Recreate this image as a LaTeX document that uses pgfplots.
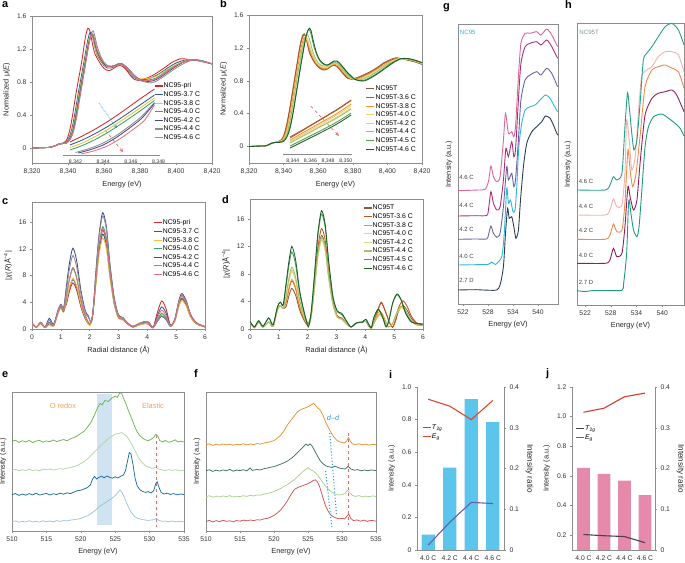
\documentclass[border=0pt]{standalone}
\usepackage{pgfplots}
\pgfplotsset{compat=1.18}
\usepackage{fontspec}
\setmainfont{Liberation Sans}
\newcommand\tickf{\fontsize{6.8}{7.5}\selectfont}
\newcommand\labf{\fontsize{7.4}{8}\selectfont}
\newcommand\ratf{\fontsize{8.2}{9}\selectfont}
\newcommand\legf{\fontsize{6.9}{7.5}\selectfont}
\newcommand\insf{\fontsize{5.2}{6}\selectfont}
\newcommand\letf{\fontsize{11}{11}\bfseries\selectfont}
% colours
\definecolor{aPri}{HTML}{D7262B}\definecolor{a37}{HTML}{2A5D8C}\definecolor{a38}{HTML}{F2C038}
\definecolor{a40}{HTML}{32A56B}\definecolor{a42}{HTML}{3E4A8E}\definecolor{a44}{HTML}{8D8D8D}
\definecolor{a46}{HTML}{E4707C}
\definecolor{bT}{HTML}{8A5A3B}\definecolor{b36}{HTML}{C0561F}\definecolor{b38}{HTML}{F0902C}
\definecolor{b40}{HTML}{F4D068}\definecolor{b42}{HTML}{CFDC90}\definecolor{b44}{HTML}{A4BF6E}
\definecolor{b45}{HTML}{4E9D4A}\definecolor{b46}{HTML}{1B5E2C}
\definecolor{e1}{HTML}{6DB34F}\definecolor{e2}{HTML}{B3D4A4}\definecolor{e3}{HTML}{1B6A9C}
\definecolor{e4}{HTML}{9CC4DD}\definecolor{band}{HTML}{CFE3F1}\definecolor{orng}{HTML}{F0A060}
\definecolor{f1}{HTML}{E8912B}\definecolor{f2}{HTML}{3E6F58}\definecolor{f3}{HTML}{A9D08F}
\definecolor{f4}{HTML}{D44F4F}\definecolor{dd}{HTML}{2A9FD6}\definecolor{rdash}{HTML}{E07070}
\definecolor{g27}{HTML}{273E54}\definecolor{g40}{HTML}{2BB8DC}\definecolor{g42}{HTML}{6B62A3}
\definecolor{g44}{HTML}{A8307A}\definecolor{g46}{HTML}{D9679C}
\definecolor{h27}{HTML}{1E9A82}\definecolor{h40}{HTML}{8E1F5C}\definecolor{h42}{HTML}{F08A4A}
\definecolor{h44}{HTML}{F0B2AE}\definecolor{h46}{HTML}{23A08A}\definecolor{hname}{HTML}{7A9A8A}
\definecolor{ibar}{HTML}{5BC5EC}\definecolor{it2g}{HTML}{6A5AAA}\definecolor{ieg}{HTML}{D9482B}
\definecolor{jbar}{HTML}{E58AAA}\definecolor{jt2g}{HTML}{454545}\definecolor{jeg}{HTML}{D9382B}
\pgfplotsset{
  base/.style={scale only axis, anchor=south west,
    axis line style={black!45, line width=0.45pt},
    tick style={black!45, line width=0.4pt}, major tick length=2bp,
    tick align=outside, tick pos=left,
    tick label style={font=\tickf, text=black!80},
    label style={font=\labf, text=black!85},
    /pgf/number format/assume math mode=true,
    /pgf/number format/1000 sep={,},
    legend style={draw=none, fill=none, font=\legf, inner sep=0pt, outer sep=0pt,
      row sep=0.9bp, nodes={inner sep=0.6bp, text height=5.2bp, text depth=1.3bp}},
    legend cell align=left,
    legend image code/.code={\draw[##1, line width=1.1pt] (0bp,0bp) -- (8bp,0bp);}},
  cl/.style={line width=0.85pt, smooth, tension=0.45},
  nl/.style={line width=0.75pt},
}
\begin{document}
\begin{tikzpicture}
\useasboundingbox (0,0) rectangle (685bp,563bp);
% ---------------- panel letters
\node[font=\letf, anchor=base west, inner sep=0] at (2bp,555bp) {a};
\node[font=\letf, anchor=base west, inner sep=0] at (220bp,555bp) {b};
\node[font=\letf, anchor=base west, inner sep=0] at (2bp,358bp) {c};
\node[font=\letf, anchor=base west, inner sep=0] at (222bp,359bp) {d};
\node[font=\letf, anchor=base west, inner sep=0] at (2bp,185bp) {e};
\node[font=\letf, anchor=base west, inner sep=0] at (194bp,185bp) {f};
\node[font=\letf, anchor=base west, inner sep=0] at (443bp,553bp) {g};
\node[font=\letf, anchor=base west, inner sep=0] at (565bp,554bp) {h};
\node[font=\letf, anchor=base west, inner sep=0] at (389bp,184bp) {i};
\node[font=\letf, anchor=base west, inner sep=0] at (546bp,186bp) {j};

% ================= panel a
\begin{axis}[base, at={(32bp,400bp)}, width=180bp, height=147bp,
  xmin=8320, xmax=8420, ymin=-0.18, ymax=1.6,
  xtick={8320,8340,8360,8380,8400,8420}, ytick={0,0.4,0.8,1.2,1.6},
  xlabel={Energy (eV)}, ylabel={Normalized μ(\textit{E})},
  legend style={at={(0.678,0.55)}, anchor=north west}]
\addplot[cl, color=aPri] coordinates {(8320,0)(8325,0.005)(8330,0.01)(8333,0.03)(8335,0.05)(8337,0.06)(8339,0.09)(8340,0.14)(8341,0.22)(8342,0.33)(8343,0.46)(8344,0.60)(8345,0.73)(8346,0.85)(8347,0.97)(8348,1.10)(8349,1.25)(8350,1.38)(8351,1.45)(8352,1.43)(8353,1.33)(8354,1.22)(8355,1.14)(8357,1.06)(8359,0.99)(8361,0.95)(8363,0.94)(8365,0.96)(8367,0.99)(8369,1.00)(8371,0.98)(8373,0.93)(8375,0.87)(8377,0.83)(8379,0.82)(8381,0.83)(8384,0.85)(8387,0.88)(8390,0.92)(8394,0.98)(8398,1.04)(8402,1.08)(8405,1.08)(8408,1.07)(8412,1.06)(8416,1.04)(8420,1.02)};
\addlegendentry{NC95-pri}
\addplot[cl, color=a37] coordinates {(8320,0)(8325,0.005)(8330,0.01)(8333,0.03)(8335,0.05)(8337,0.055)(8339,0.07)(8340,0.10)(8341,0.15)(8342,0.22)(8343,0.32)(8344,0.44)(8345,0.57)(8346,0.70)(8347,0.82)(8348,0.94)(8349,1.06)(8350,1.19)(8351,1.31)(8352,1.39)(8353,1.40)(8354,1.32)(8355,1.22)(8356,1.14)(8358,1.06)(8360,1.00)(8362,0.97)(8364,0.97)(8366,0.99)(8368,1.01)(8370,1.01)(8372,0.97)(8374,0.92)(8376,0.87)(8378,0.84)(8380,0.83)(8383,0.83)(8386,0.85)(8389,0.88)(8392,0.92)(8396,0.98)(8400,1.03)(8404,1.06)(8407,1.07)(8410,1.07)(8414,1.05)(8417,1.04)(8420,1.02)};
\addlegendentry{NC95-3.7 C}
\addplot[cl, color=a38] coordinates {(8320,0)(8325,0.005)(8330,0.01)(8333,0.03)(8335,0.05)(8337,0.055)(8339,0.065)(8340,0.09)(8341,0.13)(8342,0.19)(8343,0.28)(8344,0.39)(8345,0.52)(8346,0.65)(8347,0.77)(8348,0.89)(8349,1.01)(8350,1.14)(8351,1.26)(8352,1.34)(8353,1.37)(8354,1.32)(8355,1.23)(8356,1.15)(8358,1.07)(8360,1.01)(8362,0.98)(8364,0.98)(8366,1.00)(8368,1.01)(8370,1.01)(8372,0.98)(8374,0.93)(8376,0.88)(8378,0.85)(8380,0.84)(8383,0.84)(8386,0.85)(8389,0.87)(8392,0.91)(8396,0.96)(8400,1.01)(8404,1.05)(8407,1.07)(8410,1.07)(8414,1.05)(8417,1.04)(8420,1.02)};
\addlegendentry{NC95-3.8 C}
\addplot[cl, color=a40] coordinates {(8320,0)(8325,0.005)(8330,0.01)(8333,0.03)(8335,0.05)(8337,0.055)(8339,0.065)(8340,0.085)(8341,0.12)(8342,0.17)(8343,0.25)(8344,0.36)(8345,0.48)(8346,0.61)(8347,0.74)(8348,0.86)(8349,0.98)(8350,1.10)(8351,1.23)(8352,1.32)(8353,1.37)(8354,1.34)(8355,1.25)(8356,1.17)(8358,1.08)(8360,1.02)(8362,0.99)(8364,0.99)(8366,1.00)(8368,1.02)(8370,1.02)(8372,0.99)(8374,0.94)(8376,0.89)(8378,0.85)(8380,0.83)(8383,0.82)(8386,0.83)(8389,0.85)(8392,0.89)(8396,0.95)(8400,1.00)(8404,1.04)(8407,1.06)(8410,1.07)(8414,1.06)(8417,1.04)(8420,1.02)};
\addlegendentry{NC95-4.0 C}
\addplot[cl, color=a42] coordinates {(8320,0)(8325,0.005)(8330,0.01)(8333,0.03)(8335,0.05)(8337,0.055)(8339,0.06)(8340,0.08)(8341,0.11)(8342,0.15)(8343,0.22)(8344,0.32)(8345,0.44)(8346,0.57)(8347,0.70)(8348,0.82)(8349,0.94)(8350,1.07)(8351,1.20)(8352,1.31)(8353,1.38)(8354,1.37)(8355,1.28)(8356,1.19)(8358,1.09)(8360,1.02)(8362,0.99)(8364,0.99)(8366,1.00)(8368,1.02)(8370,1.02)(8372,0.99)(8374,0.95)(8376,0.90)(8378,0.86)(8380,0.83)(8383,0.81)(8386,0.81)(8389,0.83)(8392,0.87)(8396,0.93)(8400,0.99)(8404,1.04)(8407,1.06)(8410,1.07)(8414,1.06)(8417,1.04)(8420,1.02)};
\addlegendentry{NC95-4.2 C}
\addplot[cl, color=a44] coordinates {(8320,0)(8325,0.005)(8330,0.01)(8333,0.03)(8335,0.05)(8337,0.055)(8339,0.06)(8340,0.075)(8341,0.10)(8342,0.14)(8343,0.20)(8344,0.29)(8345,0.40)(8346,0.53)(8347,0.66)(8348,0.79)(8349,0.92)(8350,1.05)(8351,1.18)(8352,1.30)(8353,1.39)(8354,1.42)(8355,1.35)(8356,1.25)(8358,1.12)(8360,1.04)(8362,1.00)(8364,0.99)(8366,1.00)(8368,1.02)(8370,1.02)(8372,0.99)(8374,0.95)(8376,0.90)(8378,0.86)(8380,0.82)(8383,0.80)(8386,0.79)(8389,0.81)(8392,0.85)(8396,0.91)(8400,0.97)(8404,1.02)(8407,1.05)(8410,1.07)(8414,1.06)(8417,1.04)(8420,1.02)};
\addlegendentry{NC95-4.4 C}
\addplot[cl, color=a46] coordinates {(8320,0)(8325,0.005)(8330,0.01)(8333,0.03)(8335,0.05)(8337,0.055)(8339,0.06)(8340,0.08)(8341,0.105)(8342,0.145)(8343,0.21)(8344,0.30)(8345,0.42)(8346,0.55)(8347,0.68)(8348,0.81)(8349,0.93)(8350,1.06)(8351,1.19)(8352,1.30)(8353,1.38)(8354,1.37)(8355,1.29)(8356,1.20)(8358,1.10)(8360,1.03)(8362,0.99)(8364,0.98)(8366,0.99)(8368,1.01)(8370,1.01)(8372,0.98)(8374,0.94)(8376,0.89)(8378,0.85)(8380,0.83)(8383,0.82)(8386,0.82)(8389,0.84)(8392,0.88)(8396,0.94)(8400,1.00)(8404,1.04)(8407,1.06)(8410,1.07)(8414,1.05)(8417,1.04)(8420,1.02)};
\addlegendentry{NC95-4.6 C}
\draw[dd, densely dotted, line width=0.7pt, -stealth] (axis cs:8357.2,0.545) -- (axis cs:8367.2,0.24);
\draw[rdash, dashed, line width=0.7pt, -stealth] (axis cs:8360.6,0.218) -- (axis cs:8370.6,-0.048);
\end{axis}
% inset a
\begin{axis}[base, at={(63bp,408bp)}, width=97bp, height=70bp,
  xmin=8341.1, xmax=8348.1, ymin=0, ymax=70,
  axis y line=none, axis x line*=bottom, axis line style={-},
  xtick={8342,8344,8346,8348}, tick label style={font=\insf}, major tick length=1.5bp]
\addplot[cl, color=aPri] coordinates {(8341.6,13)(8342.5,19)(8343.5,26.5)(8344.5,35)(8345.5,44.5)(8346.5,54.5)(8347.7,66)};
\addplot[cl, color=a37] coordinates {(8341.6,10)(8342.5,15)(8343.5,22)(8344.5,30)(8345.5,39)(8346.5,48.5)(8347.7,60)};
\addplot[cl, color=a38] coordinates {(8341.6,7.5)(8342.5,12)(8343.5,19)(8344.5,27)(8345.5,36)(8346.5,45.5)(8347.7,57)};
\addplot[cl, color=a40] coordinates {(8341.6,5)(8342.5,9.5)(8343.5,16)(8344.5,24)(8345.5,33)(8346.5,42.5)(8347.7,54.5)};
\addplot[cl, color=a44] coordinates {(8342.0,2.5)(8343,6.5)(8344,12)(8345,20)(8346,30)(8346.8,39)(8347.7,52.5)};
\addplot[cl, color=a42] coordinates {(8342.2,2)(8343,5)(8344,10)(8345,18)(8346,28)(8346.8,37)(8347.7,51.5)};
\addplot[cl, color=a46] coordinates {(8342.4,1)(8343.3,4)(8344.3,9)(8345.3,17)(8346.3,27)(8347,35)(8347.7,50)};
\end{axis}

% ================= panel b
\begin{axis}[base, at={(249bp,400bp)}, width=173bp, height=148bp,
  xmin=8320, xmax=8420, ymin=-0.2, ymax=1.6,
  xtick={8320,8340,8360,8380,8400,8420}, ytick={0,0.4,0.8,1.2,1.6},
  xlabel={Energy (eV)}, ylabel={Normalized μ(\textit{E})},
  legend style={at={(0.676,0.527)}, anchor=north west}]
\addplot[cl, color=bT] coordinates {(8320,0)(8325,0.005)(8330,0.01)(8333,0.04)(8335,0.05)(8337,0.06)(8339,0.09)(8340,0.13)(8341,0.20)(8342,0.29)(8343,0.40)(8344,0.52)(8345,0.65)(8346,0.78)(8347,0.91)(8348,1.04)(8349,1.17)(8350,1.28)(8351,1.35)(8352,1.37)(8353,1.32)(8354,1.22)(8355,1.14)(8357,1.05)(8359,0.99)(8361,0.95)(8363,0.93)(8365,0.94)(8367,0.97)(8369,0.99)(8371,0.97)(8373,0.92)(8375,0.87)(8377,0.83)(8379,0.82)(8381,0.83)(8384,0.85)(8387,0.88)(8390,0.91)(8394,0.96)(8398,1.02)(8402,1.06)(8405,1.08)(8408,1.07)(8412,1.05)(8416,1.03)(8420,1.00)};
\addlegendentry{NC95T}
\addplot[cl, color=b36] coordinates {(8320,0)(8325,0.005)(8330,0.01)(8333,0.04)(8335,0.05)(8337,0.06)(8339,0.085)(8340,0.12)(8341,0.18)(8342,0.27)(8343,0.38)(8344,0.50)(8345,0.63)(8346,0.76)(8347,0.89)(8348,1.02)(8349,1.15)(8350,1.26)(8351,1.33)(8352,1.36)(8353,1.33)(8354,1.24)(8355,1.15)(8357,1.06)(8359,1.00)(8361,0.96)(8363,0.94)(8365,0.94)(8367,0.97)(8369,0.99)(8371,0.97)(8373,0.93)(8375,0.88)(8377,0.84)(8379,0.82)(8381,0.82)(8384,0.84)(8387,0.87)(8390,0.90)(8394,0.95)(8398,1.01)(8402,1.05)(8405,1.07)(8408,1.07)(8412,1.05)(8416,1.03)(8420,1.00)};
\addlegendentry{NC95T-3.6 C}
\addplot[cl, color=b38] coordinates {(8320,0)(8325,0.005)(8330,0.01)(8333,0.04)(8335,0.05)(8337,0.06)(8339,0.075)(8340,0.10)(8341,0.15)(8342,0.22)(8343,0.32)(8344,0.43)(8345,0.55)(8346,0.68)(8347,0.81)(8348,0.94)(8349,1.07)(8350,1.19)(8351,1.28)(8352,1.33)(8353,1.33)(8354,1.27)(8355,1.19)(8357,1.08)(8359,1.01)(8361,0.97)(8363,0.95)(8365,0.95)(8367,0.98)(8369,1.00)(8371,0.99)(8373,0.95)(8375,0.90)(8377,0.85)(8379,0.83)(8381,0.82)(8384,0.83)(8387,0.86)(8390,0.89)(8394,0.94)(8398,0.99)(8402,1.04)(8405,1.06)(8408,1.07)(8412,1.06)(8416,1.04)(8420,1.01)};
\addlegendentry{NC95T-3.8 C}
\addplot[cl, color=b40] coordinates {(8320,0)(8325,0.005)(8330,0.01)(8333,0.04)(8335,0.05)(8337,0.06)(8339,0.07)(8340,0.09)(8341,0.13)(8342,0.19)(8343,0.28)(8344,0.38)(8345,0.50)(8346,0.63)(8347,0.76)(8348,0.89)(8349,1.02)(8350,1.14)(8351,1.24)(8352,1.30)(8353,1.31)(8354,1.28)(8355,1.21)(8357,1.10)(8359,1.02)(8361,0.98)(8363,0.96)(8365,0.96)(8367,0.99)(8369,1.01)(8371,1.00)(8373,0.96)(8375,0.91)(8377,0.86)(8379,0.83)(8381,0.82)(8384,0.82)(8387,0.85)(8390,0.88)(8394,0.93)(8398,0.98)(8402,1.03)(8405,1.06)(8408,1.07)(8412,1.06)(8416,1.04)(8420,1.01)};
\addlegendentry{NC95T-4.0 C}
\addplot[cl, color=b42] coordinates {(8320,0)(8325,0.005)(8330,0.01)(8333,0.04)(8335,0.05)(8337,0.06)(8339,0.07)(8340,0.085)(8341,0.12)(8342,0.18)(8343,0.26)(8344,0.36)(8345,0.48)(8346,0.61)(8347,0.74)(8348,0.87)(8349,1.00)(8350,1.12)(8351,1.23)(8352,1.30)(8353,1.33)(8354,1.30)(8355,1.23)(8357,1.11)(8359,1.03)(8361,0.99)(8363,0.97)(8365,0.97)(8367,0.99)(8369,1.01)(8371,1.00)(8373,0.96)(8375,0.91)(8377,0.86)(8379,0.83)(8381,0.82)(8384,0.82)(8387,0.84)(8390,0.87)(8394,0.92)(8398,0.98)(8402,1.03)(8405,1.06)(8408,1.07)(8412,1.06)(8416,1.04)(8420,1.01)};
\addlegendentry{NC95T-4.2 C}
\addplot[cl, color=b44] coordinates {(8320,0)(8325,0.005)(8330,0.01)(8333,0.04)(8335,0.05)(8337,0.06)(8339,0.065)(8340,0.08)(8341,0.11)(8342,0.16)(8343,0.24)(8344,0.34)(8345,0.46)(8346,0.59)(8347,0.72)(8348,0.85)(8349,0.98)(8350,1.10)(8351,1.21)(8352,1.30)(8353,1.35)(8354,1.36)(8355,1.30)(8357,1.15)(8359,1.05)(8361,1.00)(8363,0.98)(8365,0.98)(8367,1.00)(8369,1.02)(8371,1.01)(8373,0.97)(8375,0.92)(8377,0.87)(8379,0.84)(8381,0.82)(8384,0.81)(8387,0.83)(8390,0.86)(8394,0.91)(8398,0.97)(8402,1.02)(8405,1.05)(8408,1.07)(8412,1.06)(8416,1.04)(8420,1.02)};
\addlegendentry{NC95T-4.4 C}
\addplot[cl, color=b45] coordinates {(8320,0)(8325,0.005)(8330,0.01)(8333,0.04)(8335,0.05)(8337,0.055)(8339,0.06)(8340,0.07)(8341,0.09)(8342,0.13)(8343,0.19)(8344,0.27)(8345,0.37)(8346,0.49)(8347,0.62)(8348,0.75)(8349,0.88)(8350,1.01)(8351,1.13)(8352,1.25)(8353,1.35)(8354,1.41)(8355,1.42)(8356,1.36)(8357,1.26)(8359,1.12)(8361,1.04)(8363,1.00)(8365,0.99)(8367,1.01)(8369,1.03)(8371,1.03)(8373,0.99)(8375,0.94)(8377,0.89)(8379,0.85)(8381,0.82)(8384,0.80)(8387,0.81)(8390,0.84)(8394,0.89)(8398,0.95)(8402,1.01)(8405,1.04)(8408,1.07)(8412,1.07)(8416,1.05)(8420,1.02)};
\addlegendentry{NC95T-4.5 C}
\addplot[cl, color=b46] coordinates {(8320,0)(8325,0.005)(8330,0.01)(8333,0.04)(8335,0.05)(8337,0.05)(8339,0.055)(8340,0.065)(8341,0.085)(8342,0.12)(8343,0.17)(8344,0.25)(8345,0.35)(8346,0.47)(8347,0.60)(8348,0.73)(8349,0.86)(8350,0.99)(8351,1.11)(8352,1.23)(8353,1.34)(8354,1.41)(8355,1.44)(8356,1.40)(8357,1.30)(8359,1.14)(8361,1.05)(8363,1.01)(8365,0.99)(8367,1.01)(8369,1.04)(8371,1.04)(8373,1.00)(8375,0.95)(8377,0.90)(8379,0.86)(8381,0.82)(8384,0.80)(8387,0.80)(8390,0.83)(8394,0.88)(8398,0.94)(8402,1.00)(8405,1.04)(8408,1.07)(8412,1.07)(8416,1.05)(8420,1.02)};
\addlegendentry{NC95T-4.6 C}
\draw[rdash, dashed, line width=0.7pt, -stealth] (axis cs:8355.8,0.49) -- (axis cs:8372.0,0.13);
\end{axis}
% inset b
\begin{axis}[base, at={(283bp,409bp)}, width=69bp, height=60bp,
  xmin=8342.9, xmax=8350.7, ymin=0, ymax=60,
  axis y line=none, axis x line*=bottom, axis line style={-},
  xtick={8344,8346,8348,8350}, tick label style={font=\insf}, major tick length=1.5bp]
\addplot[cl, color=bT] coordinates {(8343.7,17)(8345.4,25.5)(8347.2,35)(8349,44.5)(8350.6,54)};
\addplot[cl, color=b36] coordinates {(8343.7,16)(8345.4,25)(8347.2,34.5)(8349,44)(8350.6,53.5)};
\addplot[cl, color=b38] coordinates {(8343.7,14)(8345.4,22.5)(8347.2,31.5)(8349,40.5)(8350.6,50)};
\addplot[cl, color=b40] coordinates {(8343.7,13)(8345.4,21)(8347.2,30)(8349,39)(8350.6,48)};
\addplot[cl, color=b42] coordinates {(8343.7,12)(8345.4,20)(8347.2,28.5)(8349,37)(8350.6,46)};
\addplot[cl, color=b44] coordinates {(8343.7,11)(8345.4,19)(8347.2,27.5)(8349,36)(8350.6,45)};
\addplot[cl, color=b45] coordinates {(8343.7,8)(8345.4,15.5)(8347.2,23.5)(8349,32)(8350.6,41)};
\addplot[cl, color=b46] coordinates {(8343.7,6)(8345.4,13.5)(8347.2,21.5)(8349,30)(8350.6,39)};
\end{axis}

% ================= panel c
\begin{axis}[base, at={(32bp,234bp)}, width=173bp, height=127bp,
  xmin=0, xmax=6, ymin=0, ymax=19, xtick={0,1,2,3,4,5,6}, ytick={0,4,8,12,16},
  xlabel={Radial distance (Å)}, ylabel={|\textit{χ}(\textit{R})Å\textsuperscript{−4}|},
  legend style={at={(0.70,0.866)}, anchor=north west}]
\addplot[cl, color=aPri] coordinates {(0,0.9)(0.15,0.3)(0.3,0.9)(0.45,0.2)(0.6,0.8)(0.75,0.5)(0.9,2.4)(1.0,3.4)(1.1,2.9)(1.2,3.8)(1.3,5.66)(1.42,6.9)(1.55,5.8)(1.7,3.24)(1.85,1.52)(2.0,0.6)(2.1,2.07)(2.2,6.5)(2.32,11.8)(2.45,14.8)(2.58,13.0)(2.7,8.4)(2.85,4.0)(3.0,1.78)(3.15,1.48)(3.3,0.81)(3.5,0.3)(3.7,0.6)(3.9,0.8)(4.05,0.7)(4.2,0.2)(4.35,2.5)(4.5,4.2)(4.65,3.0)(4.8,0.6)(4.95,1.2)(5.1,3.6)(5.2,4.4)(5.35,3.5)(5.5,1.8)(5.7,0.8)(6.0,0.3)};
\addlegendentry{NC95-pri}
\addplot[cl, color=a37] coordinates {(0,0.8)(0.15,0.3)(0.3,0.8)(0.45,0.25)(0.6,1.0)(0.75,0.6)(0.9,2.6)(1.0,3.5)(1.1,3.0)(1.2,4.07)(1.3,6.07)(1.42,7.4)(1.55,6.2)(1.7,3.5)(1.85,1.6)(2.0,0.7)(2.1,2.0)(2.2,6.25)(2.32,11.4)(2.45,14.2)(2.58,12.5)(2.7,8.1)(2.85,3.8)(3.0,1.7)(3.15,1.4)(3.3,0.8)(3.5,0.3)(3.7,0.7)(3.9,0.9)(4.05,0.8)(4.2,0.2)(4.35,2.0)(4.5,3.3)(4.65,2.4)(4.8,0.5)(4.95,1.25)(5.1,3.8)(5.2,4.6)(5.35,3.7)(5.5,1.9)(5.7,0.8)(6.0,0.3)};
\addlegendentry{NC95-3.7 C}
\addplot[cl, color=a38] coordinates {(0,0.7)(0.15,0.2)(0.3,0.8)(0.45,0.2)(0.6,0.6)(0.75,0.4)(0.9,2.2)(1.0,3.1)(1.1,2.5)(1.2,4.2)(1.3,6.2)(1.42,7.6)(1.55,6.4)(1.7,3.6)(1.85,1.7)(2.0,0.5)(2.1,1.9)(2.2,6.0)(2.32,10.9)(2.45,13.6)(2.58,12.0)(2.7,7.75)(2.85,3.7)(3.0,1.6)(3.15,1.36)(3.3,0.75)(3.5,0.3)(3.7,0.6)(3.9,0.8)(4.05,0.8)(4.2,0.2)(4.35,1.45)(4.5,2.4)(4.65,1.7)(4.8,0.4)(4.95,1.15)(5.1,3.5)(5.2,4.3)(5.35,3.45)(5.5,1.75)(5.7,0.8)(6.0,0.3)};
\addlegendentry{NC95-3.8 C}
\addplot[cl, color=a40] coordinates {(0,0.8)(0.15,0.3)(0.3,0.9)(0.45,0.2)(0.6,0.9)(0.75,0.5)(0.9,2.5)(1.0,3.3)(1.1,2.6)(1.2,5.06)(1.3,7.5)(1.42,9.2)(1.55,7.7)(1.7,4.3)(1.85,2.0)(2.0,0.8)(2.1,2.1)(2.2,6.7)(2.32,12.2)(2.45,15.3)(2.58,13.5)(2.7,8.7)(2.85,4.1)(3.0,1.8)(3.15,1.5)(3.3,0.85)(3.5,0.3)(3.7,0.7)(3.9,1.0)(4.05,0.9)(4.2,0.2)(4.35,1.4)(4.5,2.3)(4.65,1.65)(4.8,0.5)(4.95,1.35)(5.1,4.1)(5.2,5.0)(5.35,4.0)(5.5,2.05)(5.7,0.9)(6.0,0.35)};
\addlegendentry{NC95-4.0 C}
\addplot[cl, color=a42] coordinates {(0,0.9)(0.15,0.3)(0.3,1.0)(0.45,0.3)(0.6,1.6)(0.75,0.7)(0.9,2.8)(1.0,3.7)(1.1,3.2)(1.2,6.65)(1.3,9.9)(1.42,12.1)(1.55,10.2)(1.7,5.7)(1.85,2.7)(1.95,2.0)(2.05,1.0)(2.12,2.6)(2.2,7.7)(2.32,13.9)(2.45,17.4)(2.58,15.3)(2.7,9.9)(2.85,4.7)(3.0,2.1)(3.15,1.74)(3.3,0.96)(3.5,0.4)(3.7,0.8)(3.9,1.1)(4.05,1.0)(4.2,0.2)(4.35,1.15)(4.5,1.9)(4.65,1.4)(4.8,0.4)(4.95,1.45)(5.1,4.35)(5.2,5.3)(5.35,4.25)(5.5,2.2)(5.7,0.95)(6.0,0.37)};
\addlegendentry{NC95-4.2 C}
\addplot[cl, color=a44] coordinates {(0,0.9)(0.15,0.3)(0.3,1.0)(0.45,0.3)(0.6,1.3)(0.75,0.6)(0.9,2.7)(1.0,3.6)(1.1,3.1)(1.2,6.05)(1.3,9.0)(1.42,11.0)(1.55,9.25)(1.7,5.2)(1.85,2.4)(1.95,1.8)(2.05,1.0)(2.12,2.5)(2.2,7.4)(2.32,13.5)(2.45,16.9)(2.58,14.9)(2.7,9.6)(2.85,4.6)(3.0,2.0)(3.15,1.7)(3.3,0.93)(3.5,0.4)(3.7,0.8)(3.9,1.1)(4.05,1.0)(4.2,0.2)(4.35,1.2)(4.5,2.0)(4.65,1.45)(4.8,0.4)(4.95,1.4)(5.1,4.2)(5.2,5.1)(5.35,4.1)(5.5,2.1)(5.7,0.9)(6.0,0.36)};
\addlegendentry{NC95-4.4 C}
\addplot[cl, color=a46] coordinates {(0,0.8)(0.15,0.3)(0.3,0.9)(0.45,0.2)(0.6,0.9)(0.75,0.5)(0.9,2.5)(1.0,3.4)(1.1,2.8)(1.2,4.95)(1.3,7.4)(1.42,9.0)(1.55,7.55)(1.7,4.2)(1.85,2.0)(2.0,0.7)(2.1,2.1)(2.2,6.6)(2.32,12.0)(2.45,15.0)(2.58,13.2)(2.7,8.55)(2.85,4.05)(3.0,1.8)(3.15,1.5)(3.3,0.83)(3.5,0.3)(3.7,0.7)(3.9,0.9)(4.05,0.9)(4.2,0.2)(4.35,1.7)(4.5,2.8)(4.65,2.0)(4.8,0.45)(4.95,1.3)(5.1,4.0)(5.2,4.9)(5.35,3.9)(5.5,2.0)(5.7,0.9)(6.0,0.34)};
\addlegendentry{NC95-4.6 C}
\end{axis}

% ================= panel d
\begin{axis}[base, at={(250bp,234bp)}, width=173bp, height=130bp,
  xmin=0, xmax=6, ymin=0, ymax=18.9, xtick={0,1,2,3,4,5,6}, ytick={0,4,8,12,16},
  xlabel={Radial distance (Å)}, ylabel={|\textit{χ}(\textit{R})Å\textsuperscript{−4}|},
  legend style={at={(0.653,0.96)}, anchor=north west}]
\addplot[cl, color=bT] coordinates {(0,1.0)(0.15,0.2)(0.3,1.0)(0.45,0.3)(0.65,1.0)(0.8,0.4)(0.95,2.8)(1.05,3.4)(1.15,3.0)(1.25,3.25)(1.35,4.84)(1.45,5.9)(1.58,4.96)(1.72,2.77)(1.87,1.3)(2.02,0.5)(2.12,1.9)(2.23,6.0)(2.35,10.9)(2.48,13.6)(2.61,12.0)(2.73,7.75)(2.88,3.67)(3.03,1.77)(3.18,1.5)(3.33,0.82)(3.5,0.3)(3.7,0.9)(3.9,1.0)(4.02,1.1)(4.2,0.1)(4.4,2.28)(4.55,3.8)(4.7,2.47)(4.85,0.8)(4.95,0.25)(5.05,1.2)(5.15,2.55)(5.3,3.4)(5.45,2.72)(5.6,1.53)(5.8,0.68)(6.0,0.5)};
\addlegendentry{NC95T}
\addplot[cl, color=b36] coordinates {(0,1.0)(0.15,0.2)(0.3,1.0)(0.45,0.3)(0.65,1.0)(0.8,0.4)(0.95,2.8)(1.05,3.4)(1.15,3.0)(1.25,3.85)(1.35,5.74)(1.45,7.0)(1.58,5.88)(1.72,3.29)(1.87,1.54)(2.02,0.5)(2.12,2.04)(2.23,6.42)(2.35,11.7)(2.48,14.6)(2.61,12.85)(2.73,8.32)(2.88,3.94)(3.03,1.9)(3.18,1.6)(3.33,0.88)(3.5,0.3)(3.7,0.9)(3.9,1.0)(4.02,1.1)(4.2,0.1)(4.4,2.34)(4.55,3.9)(4.7,2.54)(4.85,0.8)(4.95,0.25)(5.05,1.4)(5.15,3.08)(5.3,4.1)(5.45,3.28)(5.6,1.85)(5.8,0.82)(6.0,0.6)};
\addlegendentry{NC95T-3.6 C}
\addplot[cl, color=b38] coordinates {(0,1.0)(0.15,0.2)(0.3,1.0)(0.45,0.3)(0.65,1.0)(0.8,0.4)(0.95,2.8)(1.05,3.4)(1.15,3.0)(1.25,3.96)(1.35,5.9)(1.45,7.2)(1.58,6.05)(1.72,3.38)(1.87,1.58)(2.02,0.5)(2.12,1.85)(2.23,5.8)(2.35,10.56)(2.48,13.2)(2.61,11.6)(2.73,7.5)(2.88,3.56)(3.03,1.72)(3.18,1.45)(3.33,0.8)(3.5,0.3)(3.7,0.9)(3.9,1.0)(4.02,1.1)(4.2,0.1)(4.35,1.56)(4.5,2.6)(4.65,1.69)(4.8,0.3)(4.95,0.83)(5.1,2.48)(5.25,3.3)(5.4,2.64)(5.55,1.49)(5.75,0.66)(6.0,0.5)};
\addlegendentry{NC95T-3.8 C}
\addplot[cl, color=b40] coordinates {(0,1.0)(0.15,0.2)(0.3,1.0)(0.45,0.3)(0.65,1.0)(0.8,0.4)(0.95,2.8)(1.05,3.4)(1.15,3.0)(1.25,4.62)(1.35,6.9)(1.45,8.4)(1.58,7.06)(1.72,3.95)(1.87,1.85)(2.02,0.6)(2.12,1.8)(2.23,5.68)(2.35,10.3)(2.48,12.9)(2.61,11.35)(2.73,7.35)(2.88,3.48)(3.03,1.68)(3.18,1.42)(3.33,0.77)(3.5,0.3)(3.7,0.9)(3.9,1.0)(4.02,1.1)(4.2,0.1)(4.35,1.2)(4.5,2.0)(4.65,1.3)(4.8,0.3)(4.95,0.78)(5.1,2.33)(5.25,3.1)(5.4,2.48)(5.55,1.4)(5.75,0.62)(6.0,0.47)};
\addlegendentry{NC95T-4.0 C}
\addplot[cl, color=b42] coordinates {(0,1.0)(0.15,0.2)(0.3,1.0)(0.45,0.3)(0.65,1.0)(0.8,0.4)(0.95,2.8)(1.05,3.4)(1.15,3.0)(1.25,4.73)(1.35,7.05)(1.45,8.6)(1.58,7.22)(1.72,4.04)(1.87,1.9)(2.02,0.6)(2.12,1.83)(2.23,5.76)(2.35,10.5)(2.48,13.1)(2.61,11.5)(2.73,7.47)(2.88,3.54)(3.03,1.7)(3.18,1.44)(3.33,0.79)(3.5,0.3)(3.7,0.9)(3.9,1.0)(4.02,1.1)(4.2,0.1)(4.35,1.26)(4.5,2.1)(4.65,1.37)(4.8,0.3)(4.95,0.8)(5.1,2.4)(5.25,3.2)(5.4,2.56)(5.55,1.44)(5.75,0.64)(6.0,0.48)};
\addlegendentry{NC95T-4.2 C}
\addplot[cl, color=b44] coordinates {(0,1.0)(0.15,0.2)(0.3,1.0)(0.45,0.3)(0.65,1.0)(0.8,0.4)(0.95,2.8)(1.05,3.4)(1.15,3.0)(1.25,4.95)(1.35,7.38)(1.45,9.0)(1.58,7.56)(1.72,4.23)(1.87,1.98)(2.02,0.6)(2.12,1.88)(2.23,5.9)(2.35,10.7)(2.48,13.4)(2.61,11.8)(2.73,7.64)(2.88,3.62)(3.03,1.74)(3.18,1.47)(3.33,0.8)(3.5,0.3)(3.7,0.9)(3.9,1.0)(4.02,1.1)(4.2,0.1)(4.35,1.32)(4.5,2.2)(4.65,1.43)(4.8,0.3)(4.95,0.83)(5.1,2.48)(5.25,3.3)(5.4,2.64)(5.55,1.49)(5.75,0.66)(6.0,0.5)};
\addlegendentry{NC95T-4.4 C}
\addplot[cl, color=b45] coordinates {(0,1.1)(0.15,0.3)(0.3,1.2)(0.45,0.4)(0.65,1.6)(0.8,0.6)(0.95,3.2)(1.05,3.9)(1.15,3.5)(1.25,6.16)(1.35,9.18)(1.45,11.2)(1.58,9.4)(1.72,5.26)(1.87,2.46)(2.02,0.8)(2.12,2.34)(2.23,7.35)(2.35,13.36)(2.48,16.7)(2.61,14.7)(2.73,9.52)(2.88,4.5)(3.03,2.5)(3.18,2.1)(3.33,1.2)(3.5,0.3)(3.7,0.9)(3.9,1.0)(4.02,1.4)(4.2,0.2)(4.3,1.68)(4.45,2.8)(4.6,1.68)(4.72,0.3)(4.82,1.3)(4.95,3.75)(5.1,5.0)(5.25,4.1)(5.4,2.25)(5.6,1.0)(5.8,0.8)(6.0,0.7)};
\addlegendentry{NC95T-4.5 C}
\addplot[cl, color=b46] coordinates {(0,1.1)(0.15,0.3)(0.3,1.2)(0.45,0.4)(0.65,1.6)(0.8,0.6)(0.95,3.2)(1.05,3.9)(1.15,3.5)(1.25,6.6)(1.35,9.84)(1.45,12.0)(1.58,10.1)(1.72,5.64)(1.87,2.64)(2.02,0.3)(2.12,2.4)(2.23,7.57)(2.35,13.76)(2.48,17.2)(2.61,15.1)(2.73,9.8)(2.88,4.64)(3.03,2.6)(3.18,2.3)(3.33,1.3)(3.5,0.3)(3.7,0.9)(3.9,1.0)(4.02,1.4)(4.2,0.2)(4.3,1.74)(4.45,2.9)(4.6,1.74)(4.72,0.3)(4.82,1.3)(4.95,3.83)(5.1,5.1)(5.25,4.18)(5.4,2.3)(5.6,1.02)(5.8,0.82)(6.0,0.72)};
\addlegendentry{NC95T-4.6 C}
\end{axis}

% ================= panel e
\begin{axis}[base, at={(12bp,32bp)}, width=172bp, height=139bp,
  xmin=510, xmax=535, ymin=0, ymax=139, xtick={510,515,520,525,530,535}, ytick=\empty,
  xlabel={Energy (eV)}, ylabel={Intensity (a.u.)}]
\fill[band] (axis cs:522.3,6) rectangle (axis cs:524.5,137);
\addplot[nl, color=e1] coordinates {(510,89.5)(510.5,90.8)(511,88.6)(511.5,90.2)(512,89.1)(512.5,90.6)(513,88.4)(513.5,89.9)(514,90.7)(514.5,88.8)(515,90.1)(515.5,89.3)(516,91.0)(516.5,89.4)(517,90.6)(517.5,91.4)(518,90.3)(518.5,92.1)(519,93.4)(519.5,95.2)(520,97.6)(520.5,99.8)(521,104.2)(521.5,108.9)(522,116.3)(522.5,124.1)(522.8,127.5)(523.1,126.2)(523.5,130.4)(524,129.6)(524.5,132.8)(525,134.9)(525.3,133.6)(525.6,137.5)(525.9,138.2)(526.2,133.1)(526.6,126.4)(527,119.0)(527.4,112.5)(527.8,105.1)(528.2,99.0)(528.6,95.2)(529,92.8)(529.4,91.1)(529.8,90.4)(530.2,91.6)(530.6,93.5)(530.9,96.8)(531.2,94.6)(531.5,90.2)(531.9,89.1)(532.3,90.5)(532.8,88.7)(533.3,89.8)(533.7,91.2)(534.1,89.0)(534.6,89.9)(535,88.9)};
\addplot[nl, color=e2] coordinates {(510,60.5)(510.5,61.6)(511,60.2)(511.5,61.3)(512,60.4)(512.5,61.8)(513,60.6)(513.5,61.1)(514,60.3)(514.5,61.9)(515,61.2)(515.5,62.0)(516,60.9)(516.5,61.7)(517,62.3)(517.5,61.8)(518,62.9)(518.5,63.4)(519,64.5)(519.5,65.6)(520,67.4)(520.5,69.5)(521,72.3)(521.5,75.8)(522,79.1)(522.5,82.6)(523,86.3)(523.5,89.1)(524,92.4)(524.5,94.6)(525,96.9)(525.5,97.5)(525.9,98.4)(526.3,97.0)(526.7,94.4)(527.1,90.5)(527.5,85.4)(527.9,80.1)(528.3,74.6)(528.7,70.2)(529.1,67.3)(529.5,64.8)(530,63.4)(530.5,62.6)(530.9,63.8)(531.3,61.9)(531.8,61.2)(532.3,60.5)(532.8,61.4)(533.3,60.6)(533.8,61.3)(534.3,60.2)(535,60.8)};
\addplot[nl, color=e3] coordinates {(510,36.2)(510.5,37.5)(511,35.6)(511.5,37.0)(512,35.8)(512.5,37.4)(513,36.1)(513.5,37.8)(514,35.9)(514.5,36.8)(515,37.6)(515.5,36.0)(516,37.3)(516.5,36.4)(517,37.9)(517.5,36.8)(518,38.2)(518.5,37.4)(519,38.9)(519.5,40.3)(520,40.8)(520.5,42.1)(521,43.5)(521.4,46.2)(521.7,51.8)(522,54.6)(522.3,52.0)(522.6,53.5)(523,54.9)(523.4,53.2)(523.8,55.1)(524.2,53.6)(524.6,52.8)(525,54.2)(525.4,53.0)(525.8,54.8)(526.2,56.0)(526.5,60.5)(526.8,70.2)(527.05,78.5)(527.3,77.0)(527.6,66.0)(527.9,52.5)(528.2,45.0)(528.6,41.2)(529,39.5)(529.4,38.6)(529.8,39.4)(530.2,38.0)(530.6,40.2)(530.9,47.5)(531.1,49.3)(531.4,43.0)(531.7,38.4)(532.1,37.0)(532.6,37.8)(533,36.5)(533.5,37.4)(534,36.2)(534.5,37.0)(535,36.4)};
\addplot[nl, color=e4] coordinates {(510,9.2)(510.5,10.1)(511,8.8)(511.5,9.6)(512,9.0)(512.5,10.3)(513,9.1)(513.5,9.8)(514,8.9)(514.5,10.2)(515,9.4)(515.5,10.0)(516,9.2)(516.5,10.4)(517,9.6)(517.5,10.5)(518,10.1)(518.5,10.9)(519,11.3)(519.5,11.9)(520,12.6)(520.5,14.0)(521,15.4)(521.5,17.6)(522,20.1)(522.5,23.2)(523,25.8)(523.5,28.0)(524,30.2)(524.5,32.5)(525,35.4)(525.4,38.6)(525.7,41.0)(526,38.5)(526.3,34.2)(526.6,29.0)(527,22.8)(527.4,17.9)(527.8,14.6)(528.2,12.9)(528.7,11.8)(529.2,11.2)(529.7,10.6)(530.2,10.9)(530.7,11.5)(531,12.6)(531.3,10.8)(531.8,9.7)(532.3,9.9)(532.8,9.3)(533.3,10.0)(533.8,9.1)(534.3,9.7)(535,9.2)};
\draw[rdash, dashed, line width=0.7pt] (axis cs:531,96) -- (axis cs:531,4);
\node[font=\labf, text=orng] at (axis cs:517.4,125) {O redox};
\node[font=\labf, text=orng] at (axis cs:530.5,125) {Elastic};
\end{axis}

% ================= panel f
\begin{axis}[base, at={(206bp,32bp)}, width=170bp, height=139bp,
  xmin=510, xmax=535, ymin=0, ymax=139, xtick={510,515,520,525,530,535}, ytick=\empty,
  xlabel={Energy (eV)}, ylabel={Intensity (a.u.)}]
\addplot[nl, color=f1] coordinates {(510,86.3)(510.5,87.2)(511,85.6)(511.5,86.8)(512,85.9)(512.5,87.0)(513,86.1)(513.5,86.9)(514,85.8)(514.5,86.7)(515,86.2)(515.5,87.3)(516,86.0)(516.5,87.1)(517,86.4)(517.5,87.5)(518,86.9)(518.5,88.0)(519,88.6)(519.5,89.3)(520,90.4)(520.5,92.8)(521,95.9)(521.5,100.6)(522,106.3)(522.5,110.8)(523,115.2)(523.5,119.4)(524,121.6)(524.5,122.9)(525,124.2)(525.4,125.8)(525.8,127.6)(526.1,126.0)(526.4,123.4)(526.8,120.9)(527.2,115.8)(527.6,108.7)(528,103.5)(528.4,98.2)(528.8,94.0)(529.2,91.0)(529.6,89.3)(530,88.5)(530.4,88.0)(530.7,90.1)(530.95,93.4)(531.2,90.0)(531.5,87.2)(532,86.4)(532.5,87.3)(533,86.1)(533.5,86.9)(534,85.9)(534.5,86.7)(535,86.2)};
\addplot[nl, color=f2] coordinates {(510,60.3)(510.5,61.2)(511,59.6)(511.5,60.8)(512,59.9)(512.5,61.1)(513,60.2)(513.5,61.6)(514,59.8)(514.5,60.9)(515,60.4)(515.5,61.3)(516,60.1)(516.5,63.0)(516.8,60.6)(517.5,61.5)(518,61.0)(518.5,62.3)(519,62.9)(519.5,63.8)(520,64.4)(520.5,65.6)(521,66.9)(521.5,68.3)(522,70.1)(522.5,72.4)(523,75.2)(523.5,78.6)(524,82.0)(524.4,84.8)(524.7,86.9)(525,85.4)(525.3,87.2)(525.6,84.9)(526,80.1)(526.4,74.9)(526.8,70.2)(527.2,67.3)(527.6,65.2)(528,64.3)(528.5,63.6)(529,64.8)(529.5,63.2)(530,62.4)(530.5,62.0)(530.9,64.6)(531.3,62.1)(531.8,60.8)(532.3,61.4)(532.8,60.2)(533.3,61.0)(533.8,60.3)(534.3,61.1)(535,60.4)};
\addplot[nl, color=f3] coordinates {(510,34.2)(510.5,35.3)(511,33.8)(511.5,34.9)(512,34.0)(512.5,35.1)(513,34.3)(513.5,35.4)(514,33.9)(514.5,34.8)(515,34.4)(515.5,35.3)(516,34.6)(516.5,35.7)(517,35.0)(517.5,36.1)(518,35.8)(518.5,36.9)(519,37.6)(519.5,38.4)(520,39.5)(520.5,41.0)(521,42.6)(521.5,44.7)(522,46.5)(522.5,49.0)(523,51.4)(523.5,54.6)(524,57.9)(524.4,60.2)(524.7,61.8)(525,63.4)(525.3,61.5)(525.7,60.3)(526.1,58.2)(526.5,55.0)(526.9,51.3)(527.3,47.5)(527.7,43.9)(528.1,41.0)(528.5,38.9)(529,37.1)(529.5,36.0)(530,36.4)(530.4,37.5)(530.8,40.6)(531.1,38.3)(531.5,35.6)(532,34.6)(532.5,35.4)(533,34.1)(533.5,34.9)(534,34.3)(534.5,35.1)(535,34.5)};
\addplot[nl, color=f4] coordinates {(510,9.5)(510.5,10.6)(511,9.0)(511.5,10.4)(512,9.3)(512.5,10.8)(513,9.6)(513.5,10.2)(514,9.1)(514.5,10.5)(515,9.8)(515.5,10.9)(516,10.2)(516.5,11.0)(517,10.4)(517.5,11.2)(518,11.0)(518.5,12.1)(519,12.6)(519.5,13.9)(520,15.6)(520.5,18.0)(521,21.2)(521.5,25.5)(522,30.6)(522.5,36.4)(523,41.6)(523.5,43.5)(524,44.8)(524.5,46.1)(525,47.3)(525.4,48.8)(525.8,50.6)(526.1,51.2)(526.4,49.0)(526.7,44.5)(527,37.8)(527.3,31.0)(527.6,24.8)(528,19.5)(528.4,15.8)(528.8,13.9)(529.2,12.8)(529.6,12.2)(530,12.6)(530.4,12.1)(530.8,15.5)(531,16.8)(531.3,12.5)(531.7,10.4)(532.2,11.1)(532.7,9.8)(533.2,10.9)(533.7,9.6)(534.2,10.7)(535,9.9)};
\draw[rdash, dashed, line width=0.7pt] (axis cs:530.9,98) -- (axis cs:530.9,6);
\draw[dd, dotted, line width=1.1pt] (axis cs:528.2,98) -- (axis cs:529.2,16);
\draw[dd, dotted, line width=1.1pt] (axis cs:527.6,60) -- (axis cs:528.5,4);
\node[font=\labf, text=dd] at (axis cs:528.7,113) {\textit{d}–\textit{d}};
\end{axis}

% ================= panel g
\begin{axis}[base, at={(458bp,259bp)}, width=100bp, height=280bp,
  xmin=520.8, xmax=544.8, ymin=0, ymax=280, xtick={522,528,534,540}, ytick=\empty,
  xlabel={Energy (eV)}, ylabel={Intensity (a.u.)}]
\addplot[line width=0.9pt, smooth, tension=0.4, color=g27] coordinates {(520.8,14)(525,14.3)(528,13.8)(530.1,14)(530.9,19)(531.7,37.3)(532.2,70.7)(532.7,95.7)(533.1,85.7)(533.7,87.3)(534.2,77.3)(534.7,65.7)(535.3,74)(535.8,104)(536.5,137.3)(537.3,160.7)(538.5,172.3)(539.7,177.3)(540.9,182.3)(541.8,188)(542.9,185.7)(543.7,179)(544.5,170.7)(544.8,169)};
\addplot[line width=0.9pt, smooth, tension=0.4, color=g40] coordinates {(520.8,39)(525,39.3)(528,39.5)(528.9,42)(529.8,39.5)(531.3,47.3)(531.9,70.7)(532.5,115.7)(532.9,100.7)(533.4,104)(534.0,92.3)(534.5,94)(534.9,117.3)(535.4,157.3)(536.1,180.7)(536.9,194)(538.1,197.3)(539.3,199)(540.5,204)(541.8,209)(542.9,205.7)(543.9,198)(544.7,192.3)};
\addplot[line width=0.9pt, smooth, tension=0.4, color=g42] coordinates {(520.8,64.7)(525,65)(527.7,65)(528.1,69)(528.7,78)(529.3,70.7)(530.1,66.7)(530.9,70.7)(531.7,97.3)(532.5,137.3)(532.9,124)(533.7,130.7)(534.2,117.3)(534.6,124)(535.3,164)(535.9,204)(536.9,224)(538.1,229)(539.7,232.3)(540.7,229)(542.1,235.7)(543.3,230.7)(544.7,217.3)};
\addplot[line width=0.9pt, smooth, tension=0.4, color=g44] coordinates {(520.8,88)(525,88.3)(527.7,88.5)(528.1,94)(528.7,112.3)(529.3,100.7)(530.1,94)(530.9,97.3)(531.7,124)(532.3,155.7)(532.9,147.3)(533.7,162.3)(534.2,147.3)(534.6,154)(535.3,204)(535.9,240.7)(536.9,257.3)(538.1,260.7)(539.7,262.3)(540.7,259)(542.1,264)(543.3,257.3)(544.7,245.7)};
\addplot[line width=0.9pt, smooth, tension=0.4, color=g46] coordinates {(520.8,113.3)(525.7,114)(527.3,114.7)(528.1,122.3)(528.7,138)(529.3,127.3)(530.1,122.3)(530.9,127.3)(531.7,164)(532.2,190.7)(532.9,170.7)(533.7,172.3)(534.2,167.3)(534.6,177.3)(535.3,227.3)(535.9,260.7)(536.9,270.7)(538.1,270.7)(539.7,272.3)(540.7,269)(542.1,275)(543.3,269)(544.7,257.3)};
\node[font=\fontsize{6}{7}\selectfont, text=black!75, anchor=base west, inner sep=0] at (axis cs:521.1,124) {4.6 C};
\node[font=\fontsize{6}{7}\selectfont, text=black!75, anchor=base west, inner sep=0] at (axis cs:521.1,96) {4.4 C};
\node[font=\fontsize{6}{7}\selectfont, text=black!75, anchor=base west, inner sep=0] at (axis cs:521.1,72) {4.2 C};
\node[font=\fontsize{6}{7}\selectfont, text=black!75, anchor=base west, inner sep=0] at (axis cs:521.1,45) {4.0 C};
\node[font=\fontsize{6}{7}\selectfont, text=black!75, anchor=base west, inner sep=0] at (axis cs:521.1,21) {2.7 D};
\node[font=\fontsize{6.2}{7}\selectfont, text=g40, anchor=west, inner sep=0] at (axis cs:521.2,272) {NC95};
\end{axis}

% ================= panel h
\begin{axis}[base, at={(577bp,258bp)}, width=107bp, height=282bp,
  xmin=520.1, xmax=545.1, ymin=0, ymax=282, xtick={522,528,534,540}, ytick=\empty,
  xlabel={Energy (eV)}, ylabel={Intensity (a.u.)}]
\addplot[line width=0.9pt, smooth, tension=0.4, color=h27] coordinates {(520.1,14.3)(522,13.5)(524,14.5)(527,14.5)(530.6,14.7)(531.0,21.7)(531.7,51.7)(532.1,98.3)(532.3,105)(532.7,91.7)(533.3,75)(534.1,68.3)(534.6,78.3)(535.2,111.7)(536.0,158.3)(536.8,178.3)(538.0,188.3)(539.9,191)(541.5,186.7)(543.0,181.7)(544.2,176.7)(545.1,169)};
\addplot[line width=0.9pt, smooth, tension=0.4, color=h40] coordinates {(520.1,41.7)(526.7,41.7)(527.8,45)(528.6,56.7)(529.4,48.3)(530.6,51.7)(531.3,78.3)(532.0,118.3)(532.5,108.3)(533.3,95)(534.1,105)(534.9,145)(536.0,190)(537.6,206.7)(539.1,211.7)(540.7,213.3)(542.3,215)(543.4,210)(545.1,193.3)};
\addplot[line width=0.9pt, smooth, tension=0.4, color=h42] coordinates {(520.1,65.7)(526.7,65.7)(527.8,70)(528.6,81)(529.4,73.3)(530.6,75)(531.3,101.7)(532.0,155)(532.5,135)(533.1,118.3)(533.9,131.7)(534.9,171.7)(536.0,218.3)(537.6,235)(539.1,238.3)(540.7,240)(542.3,236.7)(543.8,233.3)(545.1,216.7)};
\addplot[line width=0.9pt, smooth, tension=0.4, color=h44] coordinates {(520.1,90)(526.7,90)(527.8,95)(528.6,106)(529.4,98.3)(530.6,100)(531.3,131.7)(531.7,185)(532.3,165)(532.9,135)(533.7,148.3)(534.5,195)(535.2,228.3)(536.4,235)(537.6,238.3)(539.1,248.3)(540.7,253.3)(542.3,253.3)(543.8,250)(545.1,233.3)};
\addplot[line width=0.9pt, smooth, tension=0.4, color=h46] coordinates {(520.1,115)(526.7,115)(527.8,120)(528.6,128.3)(529.4,125)(530.6,131.7)(531.3,178.3)(531.9,212.3)(532.3,198.3)(532.9,171.7)(533.4,155)(534.1,165)(534.9,205)(535.6,245)(536.4,251.7)(537.6,258.3)(539.1,268.3)(540.7,278.3)(542.3,281.5)(543.8,275)(545.1,260)};
\node[font=\fontsize{6}{7}\selectfont, text=black!75, anchor=base west, inner sep=0] at (axis cs:520.5,121) {4.6 C};
\node[font=\fontsize{6}{7}\selectfont, text=black!75, anchor=base west, inner sep=0] at (axis cs:520.5,96) {4.4 C};
\node[font=\fontsize{6}{7}\selectfont, text=black!75, anchor=base west, inner sep=0] at (axis cs:520.5,72) {4.2 C};
\node[font=\fontsize{6}{7}\selectfont, text=black!75, anchor=base west, inner sep=0] at (axis cs:520.5,47) {4.0 C};
\node[font=\fontsize{6}{7}\selectfont, text=black!75, anchor=base west, inner sep=0] at (axis cs:520.5,20) {2.7 D};
\node[font=\fontsize{6.2}{7}\selectfont, text=hname, anchor=west, inner sep=0] at (axis cs:520.6,273) {NC95T};
\end{axis}

% ================= panel i
\begin{axis}[base, at={(417bp,13bp)}, width=87bp, height=163bp,
  xmin=-0.52, xmax=3.52, ymin=0, ymax=1.0,
  axis x line*=bottom, axis y line*=left, axis line style={-},
  xtick={0,1,2,3}, xticklabels={4.0 C,4.2 C,4.4 C,4.6 C}, xtick style={draw=none},
  ytick={0,0.2,0.4,0.6,0.8,1.0}, yticklabels={0,0.2,0.4,0.6,0.8,1.0},
  ylabel={Intensity (a.u.)}, ylabel style={font=\labf}]
\addplot[ybar, bar width=0.62, fill=ibar, draw=none] coordinates {(0,0.095)(1,0.505)(2,0.925)(3,0.785)};
\end{axis}
\begin{axis}[base, at={(417bp,13bp)}, width=87bp, height=163bp,
  xmin=-0.52, xmax=3.52, ymin=0, ymax=0.4,
  axis x line=none, axis y line*=right, axis line style={-},
  ytick pos=right, yticklabel pos=right, ylabel near ticks,
  ytick={0,0.1,0.2,0.3,0.4}, yticklabels={0,0.1,0.2,0.3,0.4},
  ylabel={Intensity ratio}, ylabel style={rotate=180, font=\ratf, text=black!85},
  legend style={at={(0.06,0.775)}, anchor=north west}]
\addplot[line width=1.1pt, color=it2g] coordinates {(0,0.012)(1,0.068)(2,0.117)(3,0.114)};
\addlegendentry{\textit{T}\textsubscript{2\textit{g}}}
\addplot[line width=1.1pt, color=ieg] coordinates {(0,0.370)(1,0.353)(2,0.320)(3,0.367)};
\addlegendentry{\textit{E}\textsubscript{\textit{g}}}
\end{axis}

% ================= panel j
\begin{axis}[base, at={(572bp,13bp)}, width=83bp, height=163bp,
  xmin=-0.56, xmax=3.49, ymin=0.1, ymax=1.2,
  axis x line*=bottom, axis y line*=left, axis line style={-},
  xtick={0,1,2,3}, xticklabels={4.0 C,4.2 C,4.4 C,4.6 C}, xtick style={draw=none},
  ytick={0.2,0.4,0.6,0.8,1.0,1.2}, yticklabels={0.2,0.4,0.6,0.8,1.0,1.2},
  ylabel={Intensity (a.u.)}, ylabel style={font=\labf}]
\addplot[ybar, bar width=0.63, fill=jbar, draw=none] coordinates {(0,0.654)(1,0.614)(2,0.569)(3,0.470)};
\end{axis}
\begin{axis}[base, at={(572bp,13bp)}, width=83bp, height=163bp,
  xmin=-0.56, xmax=3.49, ymin=0, ymax=0.4,
  axis x line=none, axis y line*=right, axis line style={-},
  ytick pos=right, yticklabel pos=right, ylabel near ticks,
  ytick={0,0.1,0.2,0.3,0.4}, yticklabels={0,0.1,0.2,0.3,0.4},
  ylabel={Intensity ratio}, ylabel style={rotate=180, font=\ratf, text=black!85},
  legend style={at={(0.04,0.767)}, anchor=north west}]
\addplot[line width=1.1pt, color=jt2g] coordinates {(0,0.038)(1,0.035)(2,0.033)(3,0.018)};
\addlegendentry{\textit{T}\textsubscript{2\textit{g}}}
\addplot[line width=1.1pt, color=jeg] coordinates {(0,0.338)(1,0.348)(2,0.376)(3,0.385)};
\addlegendentry{\textit{E}\textsubscript{\textit{g}}}
\end{axis}
\end{tikzpicture}
\end{document}
